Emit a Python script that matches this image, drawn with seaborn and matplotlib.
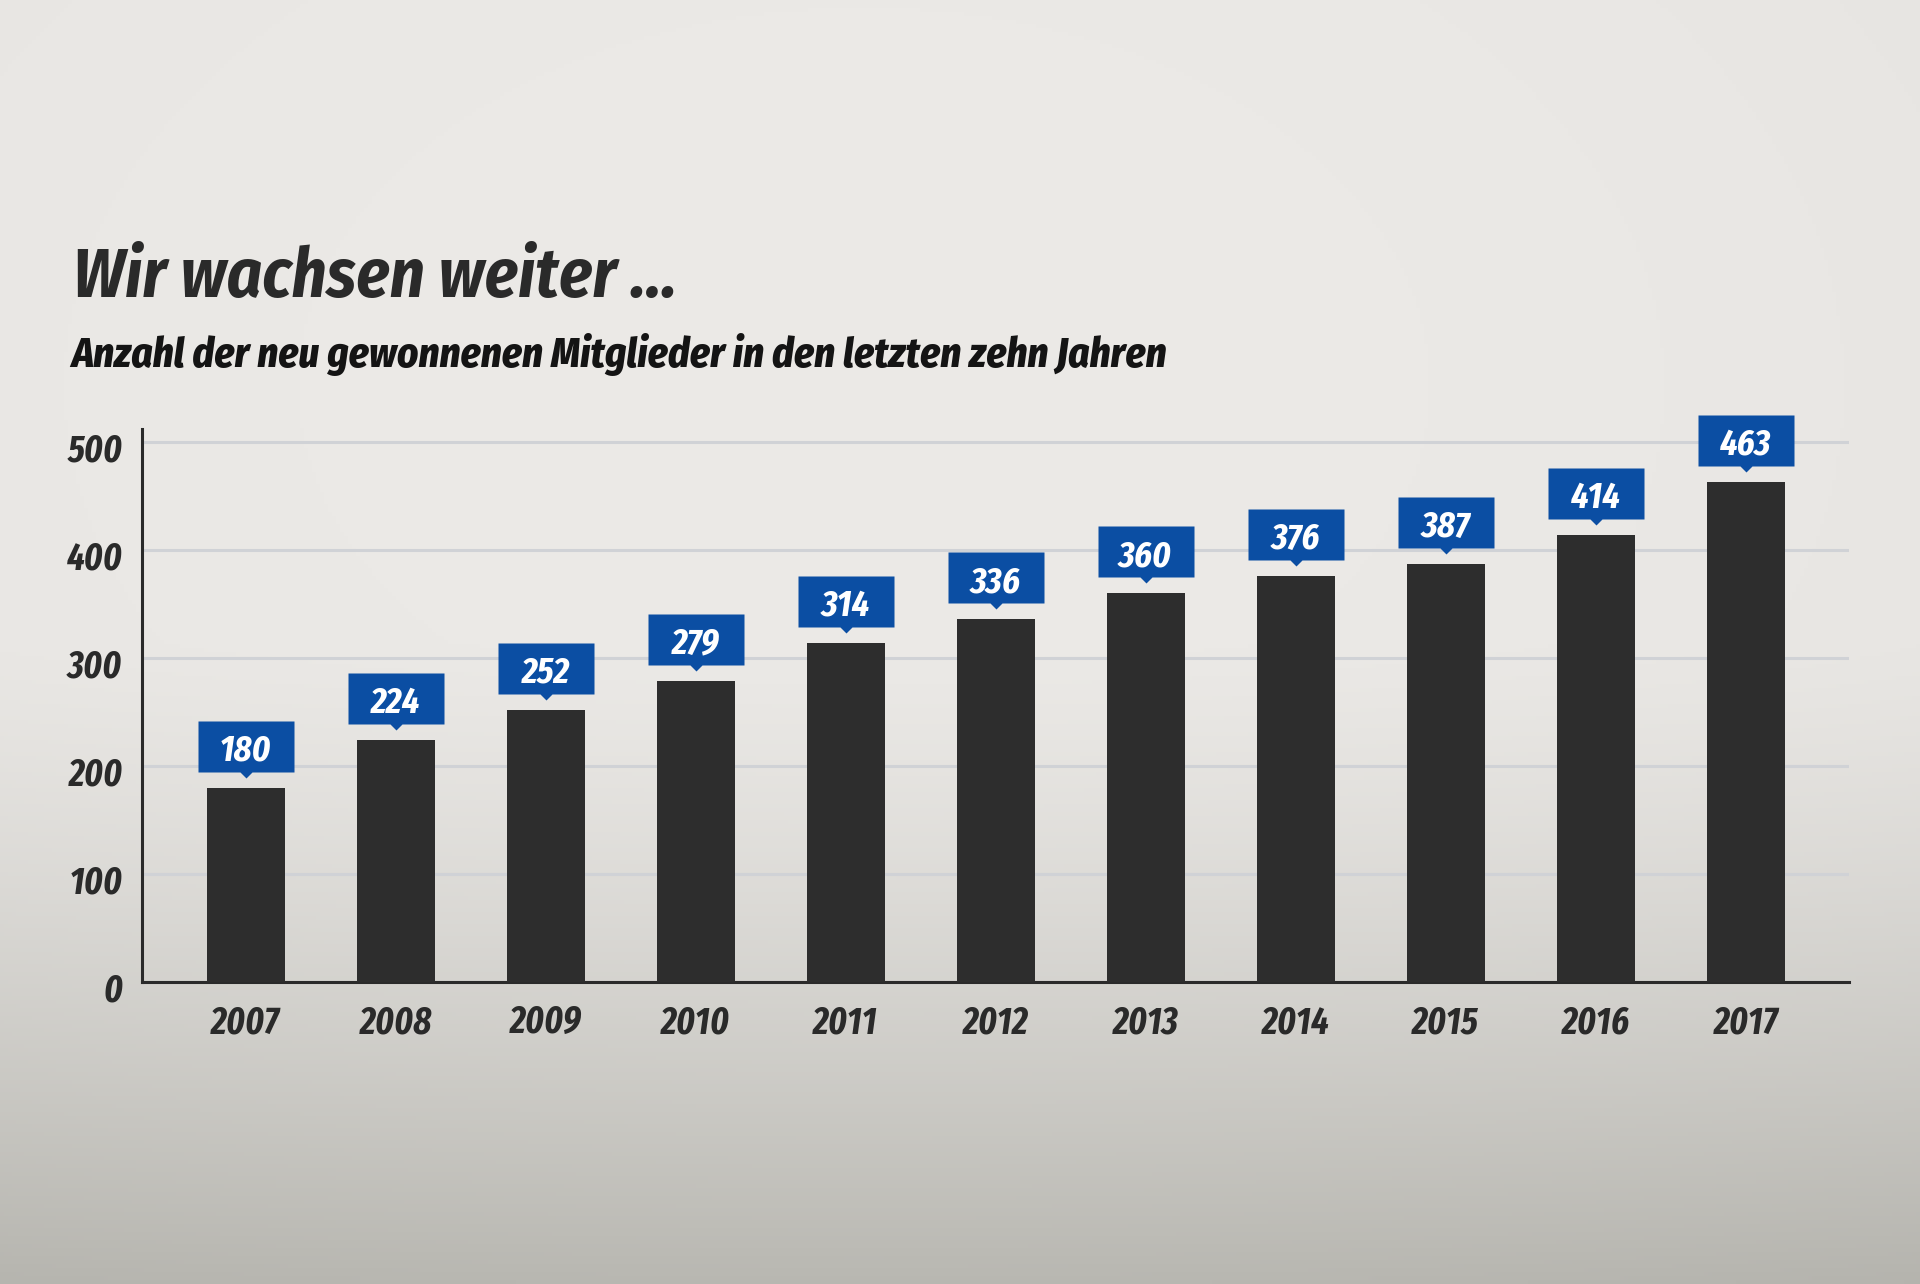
import numpy as np
import matplotlib
matplotlib.use("Agg")
import matplotlib.pyplot as plt
import matplotlib.transforms as mtransforms
from matplotlib import font_manager
from matplotlib.path import Path
import seaborn as sns

# data
years = ["2007", "2008", "2009", "2010", "2011", "2012",
         "2013", "2014", "2015", "2016", "2017"]
members = [180, 224, 252, 279, 314, 336, 360, 376, 387, 414, 463]
y_ticks = [0, 100, 200, 300, 400, 500]

title = "Wir wachsen weiter ..."
subtitle = "Anzahl der neu gewonnenen Mitglieder in den letzten zehn Jahren"

bar_color = "#2d2d2d"
box_color = "#0b4ea3"
ink = "#2a2a2a"
grid_color = "#d0d2d6"

sns.set_theme(style="white")

installed = {f.name for f in font_manager.fontManager.ttflist}


def first_font(*names):
    fallback = ["Roboto", "Liberation Sans", "DejaVu Sans"]
    return next(f for f in list(names) + fallback if f in installed)


# numbers in the narrowest cut, headings in the plain condensed one
num_font = first_font("Fira Sans Extra Condensed", "Fira Sans Condensed",
                      "Roboto Condensed", "Liberation Sans Narrow")
head_font = first_font("Fira Sans Condensed", "Fira Sans Extra Condensed",
                       "Roboto Condensed", "Liberation Sans Narrow")
plt.rcParams["font.family"] = [num_font, "DejaVu Sans"]
plt.rcParams["font.weight"] = "bold"
plt.rcParams["font.style"] = "italic"

fig = plt.figure(figsize=(19.2, 12.84), dpi=100)
renderer = fig.canvas.get_renderer()
px = 72 / fig.dpi  # points per pixel


def fit_size(text, width_px, max_size, family, weight="bold"):
    probe = fig.text(0, 0, text, fontsize=100, fontweight=weight,
                     family=[family, "DejaVu Sans"])
    w = probe.get_window_extent(renderer).width
    probe.remove()
    return min(max_size, 100 * width_px / w)


# paper-like background: light on top, greyer towards the bottom
bg = fig.add_axes([0, 0, 1, 1], zorder=-10)
yy, xx = np.mgrid[0:1:321j, 0:1:480j]
top = np.array([236, 234, 231]) / 255
bottom = np.array([190, 189, 183]) / 255
t = np.clip((yy - 0.5) / 0.5, 0, 1) ** 1.3
img = top + (bottom - top) * t[..., None]
img = img - 0.045 * ((xx - 0.45) ** 2 + (yy - 0.3) ** 2)[..., None]
bg.imshow(np.clip(img, 0, 1), aspect="auto", extent=[0, 1, 0, 1], origin="upper")
bg.axis("off")

title_size = fit_size(title, 604, 54, head_font)
sub_size = fit_size(subtitle, 1096, 30, head_font, weight="heavy")
tick_size = fit_size("2007", 70, 27, num_font)
label_size = fit_size("360", 53, 29, num_font)

fig.text(73 / 1920, 1 - 297 / 1284, title, fontsize=title_size, color=ink,
         family=[head_font, "DejaVu Sans"], va="baseline")
fig.text(71 / 1920, 1 - 367 / 1284, subtitle, fontsize=sub_size, color="#141414",
         family=[head_font, "DejaVu Sans"], fontweight="heavy", va="baseline")

ax = fig.add_axes([142 / 1920, 1 - 982 / 1284, (1849 - 142) / 1920, (982 - 429) / 1284])
ax.set_facecolor("none")
sns.barplot(x=years, y=members, color=bar_color, saturation=1, width=0.52,
            linewidth=0, ax=ax, zorder=3)

ax.set_xlim(-0.69, len(years) - 1 + 0.69)
ax.set_ylim(0, 512)
ax.set_yticks(y_ticks)
ax.grid(axis="y", color=grid_color, linewidth=2.2)
ax.grid(axis="x", visible=False)
ax.set_axisbelow(True)
for side in ["top", "right"]:
    ax.spines[side].set_visible(False)
for side in ["left", "bottom"]:
    ax.spines[side].set_color(ink)
    ax.spines[side].set_linewidth(2.2)
ax.tick_params(axis="both", length=0, labelsize=tick_size, labelcolor=ink)
ax.tick_params(axis="x", pad=16)
ax.tick_params(axis="y", pad=14)
ax.set_xlabel("")
ax.set_ylabel("")
# y labels sit a touch below their gridlines in the original
shift = mtransforms.ScaledTranslation(0, -5 / fig.dpi, fig.dpi_scale_trans)
for lab in ax.get_yticklabels():
    lab.set_transform(lab.get_transform() + shift)

# blue value tags with a small pointer, sized in pixels above each bar top
verts = [(-48, 16), (-6, 16), (0, 10), (6, 16), (48, 16), (48, 67), (-48, 67), (-48, 16)]
codes = [Path.MOVETO] + [Path.LINETO] * 6 + [Path.CLOSEPOLY]
tag = Path(verts, codes)
ax.plot(range(len(years)), members, linestyle="none", marker=tag,
        markersize=2 * 67 * px, markerfacecolor=box_color, markeredgewidth=0,
        clip_on=False, zorder=4)
for i, v in enumerate(members):
    ax.annotate(str(v), xy=(i, v), xytext=(0, 27 * px), textcoords="offset points",
                ha="center", va="baseline", color="white", fontsize=label_size,
                annotation_clip=False, zorder=5)

fig.savefig("out.png", dpi=100)
